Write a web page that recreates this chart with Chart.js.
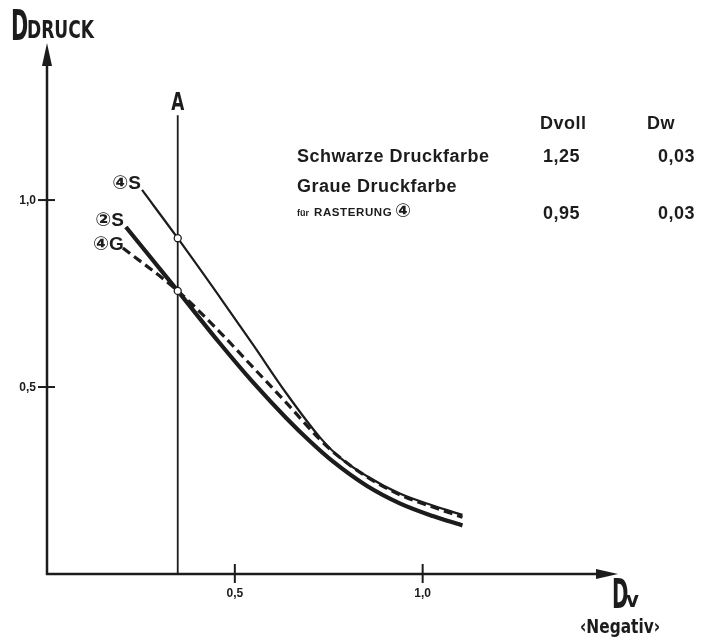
<!DOCTYPE html>
<html>
<head>
<meta charset="utf-8">
<script src="https://cdn.jsdelivr.net/npm/chart.js@4"></script>
<style>
body{margin:0;background:#fff;}
#wrap{width:702px;height:641px;}
</style>
</head>
<body>
<div id="wrap"><canvas id="chartDruck"></canvas></div>
<script>
// curve 4S (schwarz, Rasterung 4)
const xS4=[0.253,0.348,0.473,0.548,0.638,0.726,0.779,0.851,0.939,1.027,1.106];
const yS4=[1.027,0.898,0.722,0.614,0.482,0.366,0.312,0.262,0.215,0.183,0.158];
// curve 2S (schwarz, Rasterung 2)
const xS2=[0.210,0.348,0.460,0.548,0.638,0.700,0.761,0.851,0.939,1.027,1.106];
const yS2=[0.928,0.757,0.617,0.513,0.416,0.355,0.301,0.236,0.189,0.155,0.130];
// curve 4G (grau, Rasterung 4)
const xG4=[0.202,0.348,0.460,0.548,0.638,0.726,0.761,0.851,0.939,1.027,1.106];
const yG4=[0.872,0.757,0.647,0.553,0.457,0.360,0.327,0.260,0.212,0.179,0.152];
const curveNames=["④S","②S","④G"];

// line A
const lineAx=0.348;
const lineAy=[0,1.227];
const markY=[0.898,0.757];

const xTicks=[0.5,1.0];
const xTickLabels=["0,5","1,0"];
const yTicks=[0.5,1.0];
const yTickLabels=["0,5","1,0"];

const tableHead=["Dvoll","Dw"];
const tableRows=["Schwarze Druckfarbe","Graue Druckfarbe"];
const dVoll=["1,25","0,95"];
const dW=["0,03","0,03"];

function pts(xs,ys){
return xs.map((x,i)=>({x:x,y:ys[i]}));
}

const ink="#1c1c1c";
const narrow="'Liberation Sans Narrow', 'DejaVu Sans Condensed', sans-serif";

const drawExtras={
id:"drawExtras",
afterDraw(chart){
const ctx=chart.ctx;
const xs=chart.scales.x, ys=chart.scales.y;
const x0=xs.getPixelForValue(0), y0=ys.getPixelForValue(0);
const xEnd=xs.right, yEnd=ys.top;
ctx.save();
ctx.strokeStyle=ink;
ctx.fillStyle=ink;
ctx.lineWidth=2.5;
ctx.beginPath();
ctx.moveTo(x0,y0+1);ctx.lineTo(x0,yEnd+18);
ctx.moveTo(x0-1,y0);ctx.lineTo(xEnd-18,y0);
ctx.stroke();
// arrows
ctx.beginPath();
ctx.moveTo(x0,yEnd);ctx.lineTo(x0-5,yEnd+23);ctx.lineTo(x0+5,yEnd+23);ctx.closePath();
ctx.fill();
ctx.beginPath();
ctx.moveTo(xEnd,y0);ctx.lineTo(xEnd-22,y0-5);ctx.lineTo(xEnd-22,y0+5);ctx.closePath();
ctx.fill();

// ticks
ctx.lineWidth=2;
ctx.font="bold 12px 'Liberation Sans', Arial, sans-serif";
ctx.textAlign="right";ctx.textBaseline="middle";
yTicks.forEach((v,i)=>{
let p=ys.getPixelForValue(v);
ctx.beginPath();ctx.moveTo(x0-9,p);ctx.lineTo(x0+8,p);ctx.stroke();
ctx.fillText(yTickLabels[i],x0-11,p+1);
});
ctx.textAlign="center";ctx.textBaseline="top";
xTicks.forEach((v,i)=>{
let p=xs.getPixelForValue(v);
ctx.beginPath();ctx.moveTo(p,y0-10);ctx.lineTo(p,y0+9);ctx.stroke();
ctx.fillText(xTickLabels[i],p,y0+14);
});

// axis titles
ctx.textAlign="left";ctx.textBaseline="alphabetic";
ctx.save();
ctx.translate(11,40);ctx.scale(0.55,1);
ctx.font="bold 42px "+narrow;
ctx.fillText("D",0,0);
ctx.restore();
ctx.save();
ctx.translate(27,38);ctx.scale(0.76,1);
ctx.font="bold 25px "+narrow;
ctx.fillText("DRUCK",0,0);
ctx.restore();

ctx.save();
ctx.translate(612,608);ctx.scale(0.55,1);
ctx.font="bold 40px "+narrow;
ctx.fillText("D",0,0);
ctx.restore();
ctx.font="bold 22px "+narrow;
ctx.fillText("v",626,607);
ctx.save();
ctx.translate(580,633);ctx.scale(0.9,1);
ctx.font="bold 19px "+narrow;
ctx.fillText("‹Negativ›",0,0);
ctx.restore();

// label A
let ax=xs.getPixelForValue(lineAx);
ctx.textAlign="center";
ctx.save();
ctx.translate(ax,110);ctx.scale(0.78,1);
ctx.font="bold 24px "+narrow;
ctx.fillText("A",0,0);
ctx.restore();

// curve labels
const starts=[[xS4[0],yS4[0]],[xS2[0],yS2[0]],[xG4[0],yG4[0]]];
const offs=[[-1,-6],[-2,-6],[1,-3]];
ctx.textAlign="right";ctx.textBaseline="middle";
ctx.font="bold 19px 'Liberation Sans', 'DejaVu Sans', sans-serif";
starts.forEach((s,i)=>{
let px=xs.getPixelForValue(s[0])+offs[i][0];
let py=ys.getPixelForValue(s[1])+offs[i][1];
ctx.fillText(curveNames[i],px,py);
});

// table
ctx.textBaseline="alphabetic";ctx.textAlign="left";
ctx.font="bold 18px 'Liberation Sans', Arial, sans-serif";
ctx.letterSpacing="0.5px";
ctx.fillText(tableHead[0],540,129);
ctx.fillText(tableHead[1],647,129);
ctx.fillText(tableRows[0],297,162);
ctx.fillText(dVoll[0],543,162);
ctx.fillText(dW[0],658,162);
ctx.fillText(tableRows[1],297,192);
ctx.fillText(dVoll[1],543,219);
ctx.fillText(dW[1],658,219);
ctx.letterSpacing="0px";
ctx.font="bold 9px 'Liberation Sans', Arial, sans-serif";
ctx.fillText("für",297,216);
ctx.font="bold 11.5px 'Liberation Sans', Arial, sans-serif";
ctx.letterSpacing="0.6px";
ctx.fillText("RASTERUNG",314,216);
ctx.letterSpacing="0px";
ctx.font="bold 19px 'DejaVu Sans', sans-serif";
ctx.fillText("④",395,217);
ctx.restore();
}
};

new Chart(document.getElementById("chartDruck"),{
type:'line',
data:{
datasets:[
{label:"4S",data:pts(xS4,yS4),borderColor:ink,borderWidth:2.2,pointRadius:0,cubicInterpolationMode:'monotone',order:3},
{label:"2S",data:pts(xS2,yS2),borderColor:ink,borderWidth:4.2,pointRadius:0,cubicInterpolationMode:'monotone',order:2},
{label:"4G",data:pts(xG4,yG4),borderColor:ink,borderWidth:3.2,borderDash:[9,5],pointRadius:0,cubicInterpolationMode:'monotone',order:4},
{label:"A",data:[{x:lineAx,y:lineAy[0]},{x:lineAx,y:lineAy[1]}],borderColor:ink,borderWidth:1.8,pointRadius:0,order:5},
{label:"marks",data:markY.map(v=>({x:lineAx,y:v})),showLine:false,pointRadius:3.5,pointBackgroundColor:"#fff",pointBorderColor:ink,pointBorderWidth:1.3,order:0}
]
},
options:{
responsive:true,
maintainAspectRatio:false,
animation:false,
layout:{padding:{left:47,right:84,top:43,bottom:67}},
plugins:{legend:{display:false},tooltip:{enabled:false}},
scales:{
x:{type:'linear',min:0,max:1.52,display:false},
y:{type:'linear',min:0,max:1.42,display:false}
}
},
plugins:[drawExtras]
});
</script>
</body>
</html>
